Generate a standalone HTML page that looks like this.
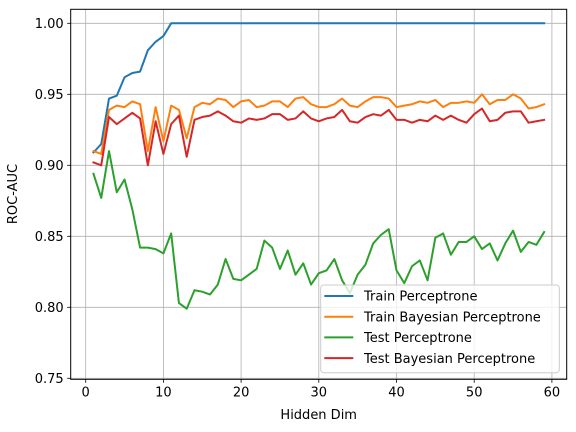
<!DOCTYPE html>
<html><head><meta charset="utf-8"><style>
body{margin:0;background:#fff}
svg{display:block;font-family:"DejaVu Sans","Liberation Sans",sans-serif}
</style></head><body>
<svg id="chart" width="576" height="432" viewBox="0 0 576 432">
<rect x="0" y="0" width="576" height="432" fill="#fff"/>
<g id="grid"></g>
<g id="series"></g>
<rect x="70.7" y="9.3" width="496" height="370" fill="none" stroke="#000" stroke-width="1"/>
<g id="ticks"></g>
<text x="17" y="194" transform="rotate(-90 17 194)" text-anchor="middle" font-size="13">ROC-AUC</text>
<text x="318.7" y="419" text-anchor="middle" font-size="13">Hidden Dim</text>
<g id="legend"></g>
</svg>
<script>
const hiddenDims = Array.from({length:59},(_, i)=>i+1);
const trainPerceptrone = [0.909,0.915,0.947,0.949,0.962,0.965,0.966,0.981,0.987,0.991,1,1,1,1,1,1,1,1,1,1,1,1,1,1,1,1,1,1,1,1,1,1,1,1,1,1,1,1,1,1,1,1,1,1,1,1,1,1,1,1,1,1,1,1,1,1,1,1,1];
const trainBayesian = [0.910,0.908,0.939,0.942,0.941,0.945,0.943,0.910,0.941,0.917,0.942,0.939,0.919,0.941,0.944,0.943,0.947,0.946,0.941,0.945,0.946,0.941,0.942,0.945,0.945,0.941,0.947,0.948,0.943,0.941,0.941,0.943,0.947,0.942,0.941,0.945,0.948,0.948,0.947,0.941,0.942,0.943,0.945,0.944,0.946,0.941,0.944,0.944,0.945,0.944,0.950,0.943,0.946,0.946,0.950,0.947,0.940,0.941,0.943];
const testPerceptrone = [0.894,0.877,0.910,0.881,0.890,0.869,0.842,0.842,0.841,0.838,0.852,0.803,0.799,0.812,0.811,0.809,0.816,0.834,0.820,0.819,0.823,0.827,0.847,0.842,0.827,0.840,0.823,0.831,0.816,0.824,0.826,0.834,0.819,0.810,0.823,0.830,0.845,0.851,0.855,0.826,0.817,0.829,0.833,0.819,0.849,0.852,0.837,0.846,0.846,0.850,0.841,0.845,0.833,0.845,0.854,0.839,0.846,0.844,0.853];
const testBayesian = [0.902,0.900,0.934,0.929,0.933,0.937,0.933,0.900,0.931,0.908,0.929,0.935,0.906,0.932,0.934,0.935,0.938,0.935,0.931,0.930,0.933,0.932,0.933,0.936,0.936,0.932,0.933,0.938,0.933,0.931,0.933,0.934,0.939,0.931,0.930,0.934,0.936,0.935,0.939,0.932,0.932,0.930,0.932,0.931,0.935,0.932,0.935,0.932,0.930,0.936,0.940,0.931,0.932,0.937,0.938,0.938,0.930,0.931,0.932];
const xTicks = [0,10,20,30,40,50,60];
const yTicks = [0.75,0.80,0.85,0.90,0.95,1.00];
const yTickLabels = ["0.75","0.80","0.85","0.90","0.95","1.00"];
const seriesNames = ["Train Perceptrone","Train Bayesian Perceptrone","Test Perceptrone","Test Bayesian Perceptrone"];
const seriesColors = ["#1f77b4","#ff7f0e","#2ca02c","#d62728"];

const NS="http://www.w3.org/2000/svg";
const L=70.7,R=566.7,T=9.3,B=379.3;
const xs=v=>85.7+v*7.77;
const ys=v=>23.3+(1-v)*1420;
function mk(tag,attrs,parent){const e=document.createElementNS(NS,tag);for(const k in attrs)e.setAttribute(k,attrs[k]);parent.appendChild(e);return e;}
const grid=document.getElementById('grid'),ticks=document.getElementById('ticks'),ser=document.getElementById('series'),leg=document.getElementById('legend');
xTicks.forEach(t=>{const x=xs(t);
 const g=mk('line',{x1:x,x2:x,y1:T,y2:B,stroke:'#b0b0b0','stroke-width':0.8},grid);
 
 
 const tk=mk('line',{x1:x,x2:x,y1:B,y2:B+3.5,stroke:'#000','stroke-width':0.8},ticks);
 
 
 const tx=mk('text',{x:x,y:B+17,'text-anchor':'middle','font-size':13},ticks);tx.textContent=t;
 
 
});
yTicks.forEach((t,i)=>{const y=ys(t);
 const g=mk('line',{x1:L,x2:R,y1:y,y2:y,stroke:'#b0b0b0','stroke-width':0.8},grid);
 
 
 const tk=mk('line',{x1:L-3.5,x2:L,y1:y,y2:y,stroke:'#000','stroke-width':0.8},ticks);
 
 
 const tx=mk('text',{x:L-7,y:y+4.5,'text-anchor':'end','font-size':13},ticks);tx.textContent=yTickLabels[i];
 
 
});
[trainPerceptrone,trainBayesian,testPerceptrone,testBayesian].forEach((d,i)=>{
 const p=mk('polyline',{points:d.map((v,j)=>xs(hiddenDims[j])+','+ys(v)).join(' '),fill:'none',stroke:seriesColors[i],'stroke-width':2,'stroke-linejoin':'round','stroke-linecap':'square'},ser);
 
 
});
const box=mk('rect',{x:320.7,y:285,width:238.6,height:87.7,rx:3,fill:'#fff','fill-opacity':0.8,stroke:'#cccccc','stroke-width':1},leg);


seriesNames.forEach((n,i)=>{const y=296+i*20.7;
 const l=mk('line',{x1:324.3,x2:353.3,y1:y,y2:y,stroke:seriesColors[i],'stroke-width':2},leg);
 
 
 const t=mk('text',{x:364,y:y+4.7,'font-size':13},leg);t.textContent=n;
 
 
});
</script>
</body></html>
